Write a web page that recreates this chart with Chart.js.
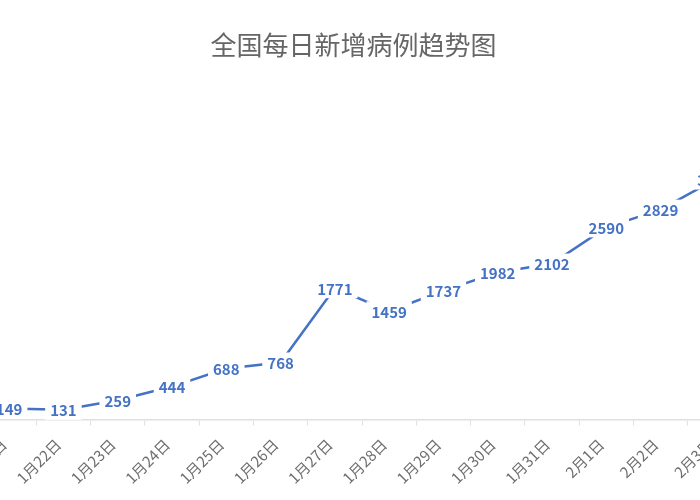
<!DOCTYPE html>
<html>
<head>
<meta charset="utf-8">
<script src="https://cdn.jsdelivr.net/npm/chart.js@4/dist/chart.umd.min.js"></script>
<style>
  html, body { margin: 0; padding: 0; background: #fff; overflow: hidden; }
  body { width: 700px; height: 500px; position: relative; }
  /* the reference is a cropped view of a wider chart */
  #wrap { position: absolute; left: -35px; top: 0; width: 777px; height: 500px; }
</style>
</head>
<body>
<div id="wrap"><canvas id="trendChart"></canvas></div>
<script>
// 全国每日新增病例 (visible window of the chart)
const dates = [
  "1月21日", "1月22日", "1月23日", "1月24日", "1月25日", "1月26日", "1月27日",
  "1月28日", "1月29日", "1月30日", "1月31日", "2月1日", "2月2日", "2月3日",
];
const newCases = [149, 131, 259, 444, 688, 768, 1771, 1459, 1737, 1982, 2102, 2590, 2829, 3235];
const yMin = 0;
const yMax = 4000;

const blue = "#4472c4";
const fontFamily = "'Noto Sans CJK SC', 'Noto Sans', sans-serif";

// value labels sitting on the line, with a white box that breaks the line
const valueLabels = {
  id: "valueLabels",
  afterDatasetsDraw(chart) {
    const ctx = chart.ctx;
    const meta = chart.getDatasetMeta(0);
    const values = chart.data.datasets[0].data;
    ctx.save();
    ctx.font = "bold 15px " + fontFamily;
    ctx.textAlign = "center";
    ctx.textBaseline = "middle";
    meta.data.forEach((pt, i) => {
      const text = String(values[i]);
      const w = ctx.measureText(text).width;
      ctx.fillStyle = "#fff";
      ctx.fillRect(pt.x - w / 2 - 5, pt.y - 10, w + 10, 20);
      ctx.fillStyle = blue;
      ctx.fillText(text, pt.x, pt.y + 1);
    });
    ctx.restore();
  },
};

const ctx = document.getElementById("trendChart").getContext("2d");

new Chart(ctx, {
  type: "line",
  data: {
    labels: dates,
    datasets: [
      {
        label: "新增病例",
        data: newCases,
        borderColor: blue,
        borderWidth: 2.5,
        pointRadius: 0,
        tension: 0,
        fill: false,
      },
    ],
  },
  options: {
    responsive: true,
    maintainAspectRatio: false,
    animation: false,
    layout: { padding: 0 },
    plugins: {
      legend: { display: false },
      tooltip: { enabled: false },
      title: {
        display: true,
        text: "全国每日新增病例趋势图",
        color: "#666",
        font: { family: fontFamily, size: 26, weight: "normal" },
        padding: { top: 30, bottom: 61.6 },
      },
    },
    scales: {
      x: {
        offset: true,
        grid: {
          offset: true,
          drawOnChartArea: false,
          color: "#e0e0e0",
          tickLength: 6,
        },
        border: { color: "#e0e0e0", width: 1.5 },
        ticks: {
          color: "#6e6e6e",
          font: { family: fontFamily, size: 15 },
          autoSkip: false,
          minRotation: 45,
          maxRotation: 45,
          padding: 10,
          labelOffset: -5,
        },
        afterFit: (scale) => {
          scale.height = 80.5;
          scale.paddingLeft = 0;
          scale.paddingRight = 0;
        },
      },
      y: {
        min: yMin,
        max: yMax,
        grid: { display: false },
        border: { display: false },
        ticks: { display: false },
        afterFit: (scale) => { scale.width = 17; },
      },
    },
  },
  plugins: [valueLabels],
});
</script>
</body>
</html>
